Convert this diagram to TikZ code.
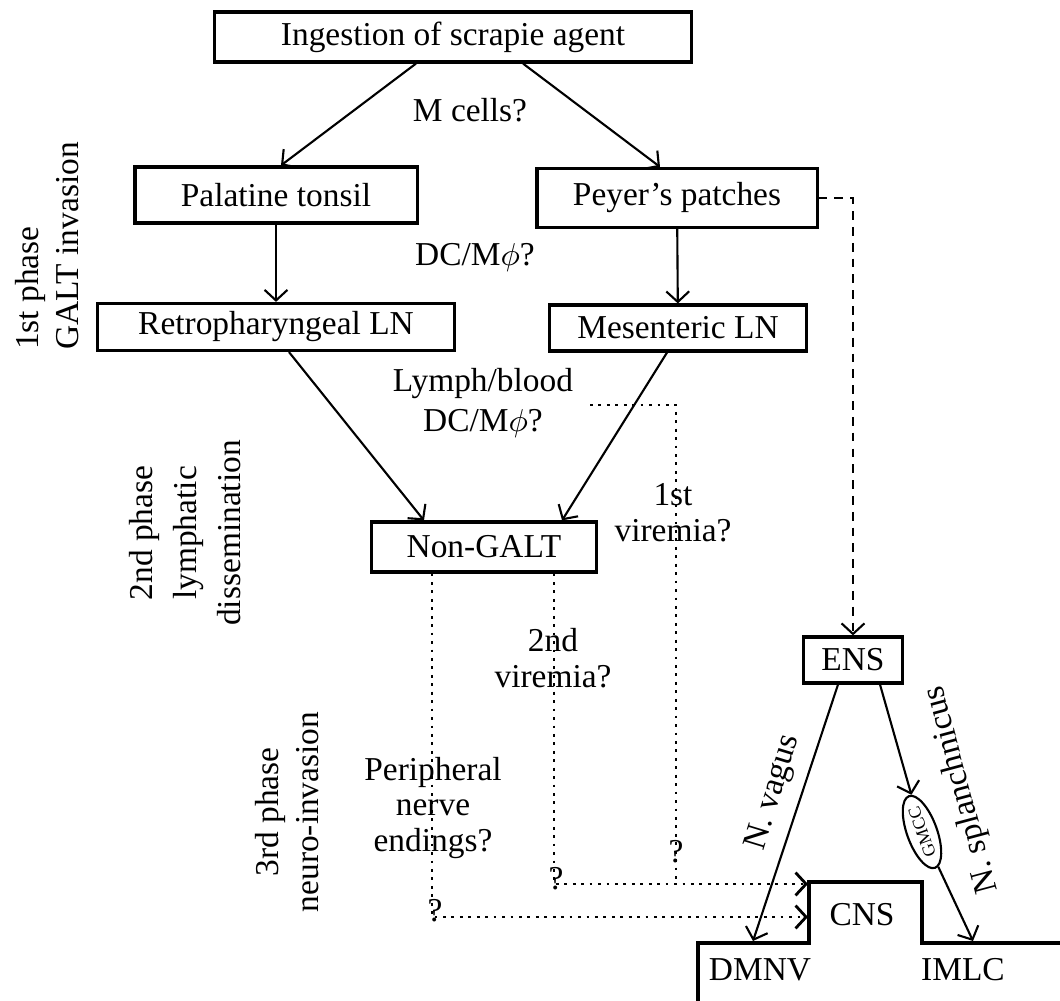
\documentclass[tikz,border=0pt]{standalone}
\usepackage{fontspec}
\setmainfont{Liberation Serif}
\usepackage{tikz}
\usetikzlibrary{positioning}
\usetikzlibrary{arrows.meta,shapes.geometric}

\begin{document}
\begin{tikzpicture}[x=0.01cm, y=-0.01cm, font=\fontsize{9.5}{11.4}\selectfont,
  box/.style={draw, line width=0.9pt, inner sep=0pt},
  arr/.style={->, line width=0.6pt},
  dotline/.style={line width=0.8pt, dash pattern=on 0.8pt off 1.6pt},
  lab/.style={align=center, font=\fontsize{9.5}{10.2}\selectfont},
  >={Straight Barb[length=3pt,width=6.5pt]}]
\useasboundingbox (0,0) rectangle (1060,1001);
\node[box, minimum width=4.76cm, minimum height=0.5cm] (ingest) at (453,37) {Ingestion of scrapie agent};
\node[box, minimum width=2.82cm, minimum height=0.56cm] (palatine) at (276,195) {Palatine tonsil};
\node[box, minimum width=2.8cm, minimum height=0.59cm] (peyers) at (677,198) {Peyer's patches};
\node[box, minimum width=3.57cm, minimum height=0.47cm] (retro) at (276,327) {Retropharyngeal LN};
\node[box, minimum width=2.57cm, minimum height=0.46cm] (mesent) at (678,328) {Mesenteric LN};
\node[box, minimum width=2.25cm, minimum height=0.5cm] (nongalt) at (484,547) {Non-GALT};
\node[box, minimum width=0.99cm, minimum height=0.46cm] (ens) at (853,660) {ENS};
\node[draw, ellipse, line width=0.6pt, rotate=110, inner sep=0.3pt, minimum width=0.76cm, minimum height=0.3cm,
  font=\fontsize{5}{6}\selectfont] (gmcc) at (922,832) {GMCC};
% CNS block
\draw[line width=0.9pt] (698,1001) -- (698,943) -- (809,943) -- (809,882) -- (922,882) -- (922,943) -- (1060,943);
\node (cns) at (862,915) {CNS};
\node (dmnv) at (760,970) {DMNV};
\node (imlc) at (963,970) {IMLC};
\coordinate (dmnvin) at (753,941);
\coordinate (imlcin) at (973,941);
\coordinate (cnsa) at (808,884);
\coordinate (cnsb) at (808,917);
\coordinate (v1a) at (590,405);
\coordinate (v1b) at (676,884);
\node (mcells) at (470,110) {M cells?};
\node (dcm) at (475,258) {DC/M$\phi$?};
\node[lab, font=\fontsize{9.5}{11.4}\selectfont] (lymph) at (483,403) {Lymph/blood\\DC/M$\phi$?};
\node[lab] (vir1) at (673,513) {1st\\viremia?};
\node[lab] (vir2) at (553,658) {2nd\\viremia?};
\node[lab] (periph) at (433,808) {Peripheral\\nerve\\endings?};
\node (q1) at (676,852) {?};
\node (q2) at (556,879) {?};
\node (q3) at (435,911) {?};
\node[rotate=73] (vagus) at (774,793) {N. vagus};
\node[rotate=105] (splanch) at (962,790) {N. splanchnicus};
\node[rotate=90, align=left] (ph1) at (47,246) {1st phase\\GALT invasion};
\node[rotate=90, align=center, font=\fontsize{9.5}{12.6}\selectfont] (ph2) at (185,533) {2nd phase\\lymphatic\\dissemination};
\node[rotate=90, align=center] (ph3) at (287,812) {3rd phase\\neuro-invasion};
\draw[arr] ([xshift=-0.37cm]ingest.south) -- ([xshift=0.05cm]palatine.north);
\draw[arr] ([xshift=0.7cm]ingest.south) -- ([xshift=-0.17cm]peyers.north);
\draw[arr] (palatine) -- (retro);
\draw[arr] (peyers) -- (mesent);
\draw[arr] ([xshift=0.13cm]retro.south) -- ([xshift=-0.6cm]nongalt.north);
\draw[arr] ([xshift=-0.11cm]mesent.south) -- ([xshift=0.78cm]nongalt.north);
\draw[arr, dash pattern=on 2.5pt off 2pt] (peyers.east) -| (ens.north);
\draw[arr] ([xshift=-0.15cm]ens.south) -- (dmnvin);
\draw[arr] ([xshift=0.27cm]ens.south) -- (gmcc);
\draw[arr] (gmcc) -- (imlcin);
\draw[dotline] (v1a) -| (v1b);
\draw[dotline, ->] ([xshift=0.7cm]nongalt.south) |- (cnsa);
\draw[dotline, ->] ([xshift=-0.52cm]nongalt.south) |- (cnsb);
\end{tikzpicture}
\end{document}
